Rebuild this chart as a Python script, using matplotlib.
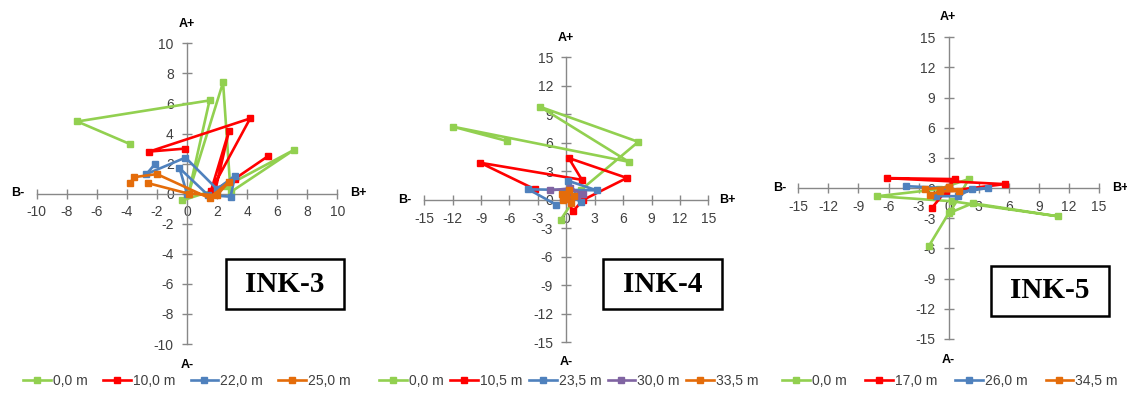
import matplotlib
matplotlib.use("Agg")
import matplotlib.pyplot as plt
from matplotlib.patches import Rectangle

# ---------- DATA ----------
# INK-3 (B, A) displacement paths
ink3_labels = ["0,0 m", "10,0 m", "22,0 m", "25,0 m"]
ink3_b_00 = [-3.8, -7.3, 1.5, 0.1, 2.4, 2.9, 7.1, 2.6, -0.3]
ink3_a_00 = [3.3, 4.8, 6.2, 0.0, 7.4, 0.1, 2.9, 0.5, -0.45]
ink3_b_10 = [-0.1, -2.5, 4.2, 1.6, 2.8, 1.9, 3.2, 5.4]
ink3_a_10 = [3.0, 2.8, 5.0, 0.2, 4.2, 0.3, 1.0, 2.5]
ink3_b_22 = [-2.1, -2.7, -0.1, 2.0, 3.2, 2.9, 1.4, -0.5, 0.0]
ink3_a_22 = [2.0, 1.3, 2.4, 0.3, 1.2, -0.2, -0.1, 1.7, 0.0]
ink3_b_25 = [-3.8, -3.5, -2.0, 1.5, 2.8, 2.0, 0.1, -2.6]
ink3_a_25 = [0.7, 1.1, 1.3, -0.3, 0.8, -0.1, 0.0, 0.7]

# INK-4
ink4_labels = ["0,0 m", "10,5 m", "23,5 m", "30,0 m", "33,5 m"]
ink4_b_00 = [-0.6, 1.5, 7.6, -2.8, 6.6, -12.0, -6.3]
ink4_a_00 = [-2.1, 1.0, 6.1, 9.8, 4.0, 7.7, 6.2]
ink4_b_105 = [-3.3, -9.1, 1.65, 0.25, 6.4, 1.8, 0.7, 0.0]
ink4_a_105 = [1.1, 3.9, 2.1, 4.4, 2.3, 0.0, -1.2, 0.3]
ink4_b_235 = [-1.1, -4.0, 3.2, 0.2, 1.5, 0.5]
ink4_a_235 = [-0.5, 1.1, 1.0, 2.0, -0.2, 0.4]
ink4_b_30 = [-1.7, 0.4, 1.8, 0.5, 1.1, -0.3]
ink4_a_30 = [1.0, 1.2, 0.6, 0.3, 0.4, 0.2]
ink4_b_335 = [-0.5, 0.3, 0.8, -0.3, 0.5, 0.0]
ink4_a_335 = [0.6, 1.0, 0.4, 0.0, -0.3, 0.5]

# INK-5
ink5_labels = ["0,0 m", "17,0 m", "26,0 m", "34,5 m"]
ink5_b_00 = [-2.0, 0.0, 2.4, 10.9, 0.3, -7.1, -1.0, 2.0, 0.2]
ink5_a_00 = [-5.8, -2.5, -1.5, -2.8, -1.3, -0.8, -0.1, 0.9, -2.3]
ink5_b_17 = [-1.7, -0.3, 5.6, -6.2, 0.6, 0.0]
ink5_a_17 = [-2.0, -0.3, 0.4, 1.0, 0.9, 0.1]
ink5_b_26 = [-4.3, 0.0, -1.3, 0.9, 2.3, 3.9, 1.0]
ink5_a_26 = [0.2, 0.0, -0.8, -0.8, -0.1, 0.0, -0.4]
ink5_b_345 = [-2.4, 0.0, 1.0, -0.9, -1.9]
ink5_a_345 = [-0.1, 0.1, -0.3, -0.3, -0.7]

GREEN = "#92D050"
RED = "#FF0000"
BLUE = "#4F81BD"
PURPLE = "#8064A2"
ORANGE = "#E46C0A"
AXIS_GRAY = "#888888"
TXT = "#404040"

plt.rcParams["font.family"] = ["Liberation Sans", "DejaVu Sans"]
plt.rcParams["axes.unicode_minus"] = False

fig = plt.figure(figsize=(11.27, 3.96), dpi=100)
W, H = 1127, 396


def make_axes(x0, x1, ytop, ybot, lim, step):
    ax = fig.add_axes([x0 / W, (H - ybot) / H, (x1 - x0) / W, (ybot - ytop) / H])
    ax.set_xlim(-lim, lim)
    ax.set_ylim(-lim, lim)
    for s in ["top", "right"]:
        ax.spines[s].set_visible(False)
    for s in ["left", "bottom"]:
        ax.spines[s].set_position("zero")
        ax.spines[s].set_color(AXIS_GRAY)
        ax.spines[s].set_linewidth(1.0)
    ticks = list(range(-lim, lim + 1, step))
    ax.set_xticks(ticks)
    ax.set_yticks(ticks)
    ax.tick_params(direction="inout", length=7, width=1, color=AXIS_GRAY,
                   labelsize=10, labelcolor=TXT)
    ax.tick_params(axis="x", pad=5)
    ax.tick_params(axis="y", pad=6)
    ax.patch.set_alpha(0)
    return ax


def series(ax, b, a, color, label):
    ax.plot(b, a, color=color, linewidth=1.9, marker="s", markersize=4.5,
            label=label, zorder=3, clip_on=False)


def ink_box(x0, y0, x1, y1, text):
    fig.patches.append(Rectangle((x0 / W, (H - y1) / H), (x1 - x0) / W, (y1 - y0) / H,
                                 transform=fig.transFigure, fill=False,
                                 edgecolor="black", linewidth=1.8))
    fig.text((x0 + x1) / 2 / W, (H - (y0 + y1) / 2) / H, text, ha="center", va="center",
             fontsize=21, fontweight="bold", family="Liberation Serif")


def dir_labels(cx, cy, top, bot, left, right):
    kw = dict(ha="center", va="center", fontsize=9, fontweight="bold", color="black")
    fig.text(cx / W, (H - top) / H, "A+", **kw)
    fig.text(cx / W, (H - bot) / H, "A-", **kw)
    fig.text(left / W, (H - cy) / H, "B-", **kw)
    fig.text(right / W, (H - cy) / H, "B+", **kw)


def legend(ax, cx, spacing):
    h, l = ax.get_legend_handles_labels()
    fig.legend(h, l, loc="center", bbox_to_anchor=(cx / W, 15 / H), ncol=len(l),
               frameon=False, fontsize=10, handlelength=2.0, columnspacing=spacing,
               handletextpad=0.15, labelcolor=TXT, borderaxespad=0, borderpad=0)


# ---------- INK-3 ----------
ax1 = make_axes(36.7, 337.3, 43.3, 344, 10, 2)
series(ax1, ink3_b_00, ink3_a_00, GREEN, ink3_labels[0])
series(ax1, ink3_b_10, ink3_a_10, RED, ink3_labels[1])
series(ax1, ink3_b_22, ink3_a_22, BLUE, ink3_labels[2])
series(ax1, ink3_b_25, ink3_a_25, ORANGE, ink3_labels[3])
dir_labels(187, 193, 24, 365, 18, 358)
ink_box(226, 259, 344, 309, "INK-3")
legend(ax1, 187, 1.1)

# ---------- INK-4 ----------
ax2 = make_axes(424.3, 708.3, 57.3, 342.3, 15, 3)
series(ax2, ink4_b_00, ink4_a_00, GREEN, ink4_labels[0])
series(ax2, ink4_b_105, ink4_a_105, RED, ink4_labels[1])
series(ax2, ink4_b_235, ink4_a_235, BLUE, ink4_labels[2])
series(ax2, ink4_b_30, ink4_a_30, PURPLE, ink4_labels[3])
series(ax2, ink4_b_335, ink4_a_335, ORANGE, ink4_labels[4])
dir_labels(566, 200, 38, 362, 405, 727)
ink_box(603, 259, 722, 309, "INK-4")
legend(ax2, 569, 0.45)

# ---------- INK-5 ----------
ax3 = make_axes(798.3, 1099, 37.3, 339, 15, 3)
series(ax3, ink5_b_00, ink5_a_00, GREEN, ink5_labels[0])
series(ax3, ink5_b_17, ink5_a_17, RED, ink5_labels[1])
series(ax3, ink5_b_26, ink5_a_26, BLUE, ink5_labels[2])
series(ax3, ink5_b_345, ink5_a_345, ORANGE, ink5_labels[3])
dir_labels(948, 188, 17, 360, 780, 1120)
ink_box(991, 266, 1109, 316, "INK-5")
legend(ax3, 950, 1.3)

fig.savefig("out.png", dpi=100)
